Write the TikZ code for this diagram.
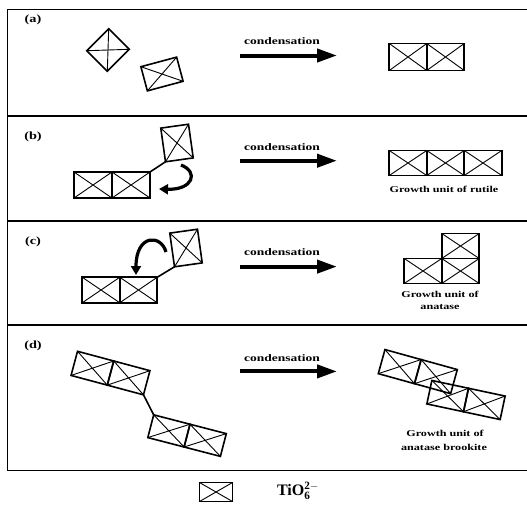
\documentclass[tikz,border=0pt]{standalone}
\usepackage{fontspec}
\setmainfont{Liberation Serif}
\usetikzlibrary{arrows.meta}
\newcommand\octa[4]{%
  \node[oct,rotate=#3,#4] (#1) at (#2) {};
  \draw[diag] (#1.north west) -- (#1.south east) (#1.north east) -- (#1.south west);}
\begin{document}
\begin{tikzpicture}[x=1pt,y=-1pt,
  oct/.style={draw, line width=1.6pt, inner sep=0pt, outer sep=0pt, minimum width=37.5pt, minimum height=26pt},
  diag/.style={line width=0.9pt},
  frameline/.style={line width=1.6pt},
  condarrow/.style={line width=4pt, -{Triangle[length=20pt,width=13pt]}},
  curvarrow/.style={line width=3.2pt, -{Triangle[length=9pt,width=10pt]}},
  linker/.style={line width=1.6pt},
  condtxt/.style={font=\bfseries\fontsize{10}{11}\selectfont, xscale=1.35, inner sep=0pt},
  captxt/.style={font=\bfseries\fontsize{9}{10}\selectfont, xscale=1.35, inner sep=0pt},
  panellabel/.style={font=\bfseries\fontsize{11}{12}\selectfont, xscale=1.3, inner sep=0pt}
]
\useasboundingbox (0,0) rectangle (527,507);
% frame
\draw[frameline] (532,9.5) -- (7.5,9.5) -- (7.5,470.5) -- (532,470.5);
\draw[frameline] (7.5,116) -- (532,116);
\draw[frameline] (7.5,221) -- (532,221);
\draw[frameline] (7.5,325) -- (532,325);

% ---------- (a)
\node[panellabel] (la) at (33,20) {(a)};
\octa{a1}{108,50}{45}{minimum width=31pt, minimum height=29pt}
\octa{a2}{162,74}{15}{minimum width=37pt, minimum height=25pt}
\coordinate (as) at (240,55.5); \coordinate (ae) at (337,55.5);
\draw[condarrow] (as) -- (ae);
\node[condtxt] (ta) at (282,41) {condensation};
\octa{a3}{408,57}{0}{minimum height=27pt}
\octa{a4}{445.5,57}{0}{minimum height=27pt}

% ---------- (b)
\node[panellabel] (lb) at (33,137) {(b)};
\octa{b1}{177,143}{8}{minimum width=28pt, minimum height=34pt}
\octa{b2}{93,185}{0}{minimum width=38pt}
\octa{b3}{131,185}{0}{minimum width=38pt}
\draw[linker] (b3.north east) -- (b1.south west);
\coordinate (bc1) at (181,165); \coordinate (bc2) at (159,189);
\draw[curvarrow] (bc1) .. controls (199,172) and (193,190) .. (bc2);
\coordinate (bs) at (240,160.7); \coordinate (be) at (337,160.7);
\draw[condarrow] (bs) -- (be);
\node[condtxt] (tb) at (282,147) {condensation};
\octa{b4}{408,163}{0}{minimum height=25pt}
\octa{b5}{445.5,163}{0}{minimum height=25pt}
\octa{b6}{483,163}{0}{minimum height=25pt}
\node[captxt] (gb) at (444,189) {Growth unit of rutile};

% ---------- (c)
\node[panellabel] (lc) at (33,242) {(c)};
\octa{c1}{186,248}{8}{minimum width=28pt, minimum height=34pt}
\octa{c2}{101,290}{0}{minimum height=25.5pt}
\octa{c3}{138.5,290}{0}{minimum height=25.5pt}
\draw[linker] (c3.north east) -- (c1.south west);
\coordinate (cc1) at (166,252); \coordinate (cc2) at (136,275);
\draw[curvarrow] (cc1) .. controls (161,234) and (136,234) .. (cc2);
\coordinate (cs) at (240,266.6); \coordinate (ce) at (337,266.6);
\draw[condarrow] (cs) -- (ce);
\node[condtxt] (tc) at (282,252) {condensation};
\octa{c4}{460.5,246}{0}{minimum height=25pt}
\octa{c5}{423,271}{0}{minimum height=25pt}
\octa{c6}{460.5,271}{0}{minimum height=25pt}
\node[captxt] (gc1) at (440,294) {Growth unit of};
\node[captxt] (gc2) at (440,307.5) {anatase};

% ---------- (d)
\node[panellabel] (ld) at (33,346) {(d)};
\octa{d1}{92.4,368.2}{-15}{minimum height=25pt}
\octa{d2}{128.6,377.9}{-15}{minimum height=25pt}
\octa{d3}{168.9,430.9}{-14.5}{minimum height=23.5pt}
\octa{d4}{205.2,440.3}{-14.5}{minimum height=23.5pt}
\draw[linker] (d2.south east) -- (d3.north west);
\coordinate (ds) at (240,371.4); \coordinate (de) at (337,371.4);
\draw[condarrow] (ds) -- (de);
\node[condtxt] (td) at (282,358) {condensation};
\octa{e1}{399.7,366.6}{-15.5}{minimum height=25pt}
\octa{e2}{435.9,376.6}{-15.5}{minimum height=25pt}
\octa{e3}{447.7,396.1}{-12}{minimum height=24pt}
\octa{e4}{484.3,403.9}{-12}{minimum height=24pt}
\node[captxt] (gd1) at (445,433.6) {Growth unit of};
\node[captxt] (gd2) at (444,447) {anatase brookite};

% ---------- legend
\octa{leg}{216,492}{0}{minimum width=33pt, minimum height=19pt}
\node[font=\bfseries\fontsize{16}{18}\selectfont, inner sep=0pt] (legt) at (298,491) {TiO$_{\mathbf 6}^{\mathbf{2-}}$};
\end{tikzpicture}
\end{document}
